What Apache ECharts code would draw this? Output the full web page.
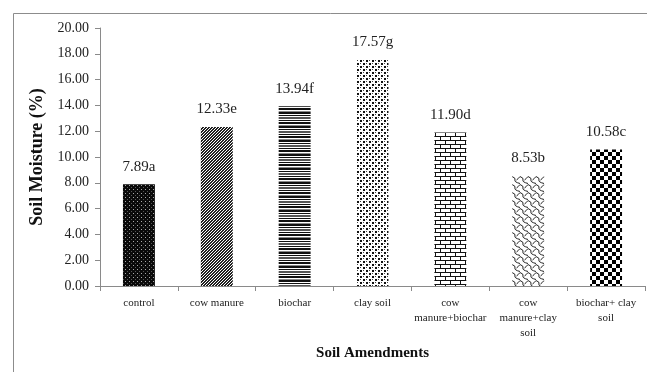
<!DOCTYPE html>
<html>
<head>
<meta charset="utf-8">
<script src="https://cdn.jsdelivr.net/npm/echarts@6/dist/echarts.min.js"></script>
<style>
html,body{margin:0;padding:0;background:#fff;}
#chart{width:647px;height:372px;}
</style>
</head>
<body>
<div id="chart"></div>
<script>
// Soil moisture by amendment
const categories = ['control', 'cow manure', 'biochar', 'clay soil', 'cow\nmanure+biochar', 'cow\nmanure+clay\nsoil', 'biochar+ clay\nsoil'];
const moisture = [7.89, 12.33, 13.94, 17.57, 11.90, 8.53, 10.58];
const groups = ['a', 'e', 'f', 'g', 'd', 'b', 'c'];

// Tile builders for the bar fill patterns
function tile(w, h, draw) {
  const c = document.createElement('canvas');
  c.width = w; c.height = h;
  const g = c.getContext('2d');
  draw(g, w, h);
  return c;
}
const patterns = [
  // dense dark grid with light dots
  tile(4, 4, (g) => { g.fillStyle = '#0a0a0a'; g.fillRect(0,0,4,4); g.fillStyle = '#aaa'; g.fillRect(1,1,1,1); g.fillStyle='#555'; g.fillRect(3,3,1,1); }),
  // diagonal hatching
  tile(3, 3, (g) => { g.fillStyle = '#fff'; g.fillRect(0,0,3,3); g.fillStyle = '#222';
    for (let i = 0; i < 3; i++) { g.fillRect(i, 2 - i, 1, 1); g.fillRect((i + 1) % 3, 2 - i, 1, 1); } }),
  // horizontal lines of varying weight
  tile(4, 14, (g) => { g.fillStyle = '#fff'; g.fillRect(0,0,4,14); g.fillStyle = '#111';
    g.fillRect(0,0,4,2); g.fillRect(0,3,4,1); g.fillStyle='#555'; g.fillRect(0,5,4,2); g.fillStyle='#111'; g.fillRect(0,8,4,1); g.fillRect(0,10,4,2); g.fillStyle='#888'; g.fillRect(0,13,4,1); }),
  // staggered dots
  tile(6, 6, (g) => { g.fillStyle = '#fff'; g.fillRect(0,0,6,6); g.fillStyle = '#111';
    g.fillRect(0,0,2,2); g.fillRect(3,3,2,2); g.fillStyle='#444'; g.fillRect(3,0,1,1); g.fillRect(0,3,1,1); }),
  // brick
  tile(10, 8, (g) => { g.fillStyle = '#fff'; g.fillRect(0,0,10,8); g.fillStyle = '#111';
    g.fillRect(0,0,10,1); g.fillRect(0,4,10,1); g.fillRect(0,0,1,4); g.fillRect(5,4,1,4); }),
  // wavy lattice
  tile(8, 8, (g) => { g.fillStyle = '#fff'; g.fillRect(0,0,8,8); g.strokeStyle = '#222'; g.lineWidth = 1;
    g.beginPath(); g.moveTo(0,0.5); g.quadraticCurveTo(4,2,3,4); g.quadraticCurveTo(2,6,8,7.5); g.stroke();
    g.beginPath(); g.moveTo(8,0.5); g.quadraticCurveTo(6,3,4.5,4); g.stroke(); }),
  // checkerboard
  tile(8, 8, (g) => { g.fillStyle = '#fff'; g.fillRect(0,0,8,8); g.fillStyle = '#000';
    g.fillRect(0,0,4,4); g.fillRect(4,4,4,4); })
];

const serif = '"Liberation Serif", "DejaVu Serif", serif';
const chart = echarts.init(document.getElementById('chart'), null, {renderer: 'canvas'});
chart.setOption({
  animation: false,
  backgroundColor: '#fff',
  graphic: [{
    type: 'rect', left: 11, top: 11, shape: {width: 700, height: 420},
    style: {fill: 'none', stroke: '#8c8c8c', lineWidth: 1}, silent: true
  }],
  grid: {left: 100, right: 2, top: 28, bottom: 86, containLabel: false},
  xAxis: {
    type: 'category',
    data: categories,
    name: 'Soil Amendments',
    nameLocation: 'middle',
    nameGap: 59,
    nameTextStyle: {fontFamily: serif, fontWeight: 'bold', fontSize: 15, color: '#111'},
    axisLine: {lineStyle: {color: '#8a8a8a'}},
    axisTick: {show: true, length: 5, lineStyle: {color: '#8a8a8a'}},
    axisLabel: {interval: 0, fontFamily: serif, fontSize: 11, color: '#222', lineHeight: 15, margin: 10}
  },
  yAxis: {
    type: 'value',
    min: 0, max: 20, interval: 2,
    name: 'Soil Moisture (%)',
    nameLocation: 'middle',
    nameGap: 51,
    nameTextStyle: {fontFamily: serif, fontWeight: 'bold', fontSize: 18, color: '#111'},
    axisLine: {show: true, lineStyle: {color: '#8a8a8a'}},
    axisTick: {show: true, length: 5, lineStyle: {color: '#8a8a8a'}},
    splitLine: {show: false},
    axisLabel: {fontFamily: serif, fontSize: 14, color: '#222', margin: 11, formatter: v => v.toFixed(2)}
  },
  series: [{
    type: 'bar',
    barWidth: '41%',
    data: moisture.map((v, i) => ({value: v, itemStyle: {color: {image: patterns[i], repeat: 'repeat'}}})),
    label: {
      show: true, position: 'top', distance: 10,
      fontFamily: serif, fontSize: 15, color: '#222',
      formatter: p => p.value.toFixed(2) + groups[p.dataIndex]
    }
  }]
});
</script>
</body>
</html>
